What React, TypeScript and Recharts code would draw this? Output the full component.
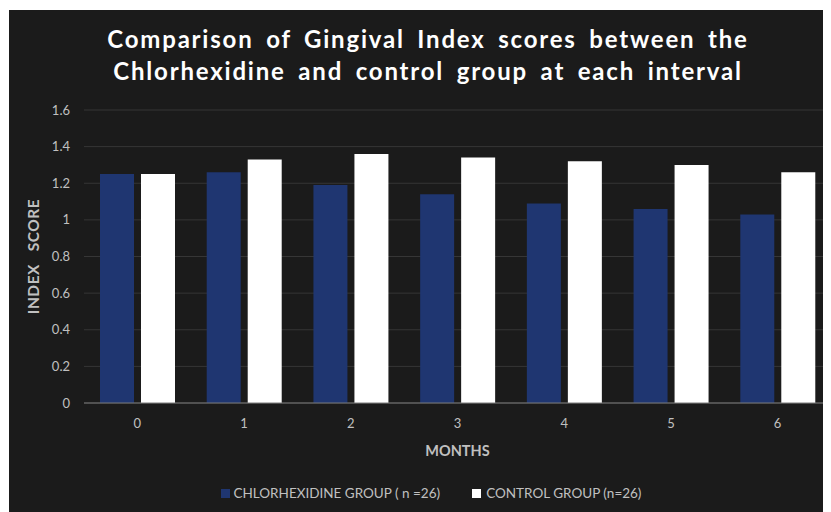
import { BarChart, Bar, XAxis, YAxis, CartesianGrid, Legend } from 'recharts'

// Data
const months = ['0', '1', '2', '3', '4', '5', '6']
const chlorhexidine = [1.25, 1.26, 1.19, 1.14, 1.09, 1.06, 1.03]
const control = [1.25, 1.33, 1.36, 1.34, 1.32, 1.3, 1.26]
const yTicks = [0, 0.2, 0.4, 0.6, 0.8, 1, 1.2, 1.4, 1.6]

const NAVY = '#1f3671'
const TEXT = '#c0c0c0'
const FONT = 'Lato, "Open Sans", sans-serif'

const data = months.map((m, i) => ({
  month: m,
  chlor: chlorhexidine[i],
  control: control[i],
}))

function LegendContent() {
  return (
    <div
      style={{
        display: 'flex',
        justifyContent: 'center',
        gap: 32,
        paddingTop: 18,
        paddingLeft: 22,
        fontFamily: FONT,
        fontSize: 13.5,
        color: TEXT,
      }}
    >
      <span style={{ display: 'flex', alignItems: 'center', gap: 4 }}>
        <span style={{ width: 9, height: 9, background: NAVY, display: 'inline-block' }} />
        CHLORHEXIDINE GROUP ( n =26)
      </span>
      <span style={{ display: 'flex', alignItems: 'center', gap: 5 }}>
        <span style={{ width: 9, height: 9, background: '#ffffff', display: 'inline-block' }} />
        CONTROL GROUP (n=26)
      </span>
    </div>
  )
}

export default function App() {
  return (
    <div
      style={{
        position: 'relative',
        width: 822,
        height: 502,
        marginLeft: 1,
        marginTop: 2,
        background: '#1b1b1b',
      }}
    >
      {/* Title */}
      <div
        style={{
          position: 'absolute',
          top: 13,
          left: 0,
          width: 838,
          textAlign: 'center',
          color: '#ffffff',
          fontFamily: FONT,
          fontWeight: 700,
          fontSize: 24,
          letterSpacing: 1.8,
          lineHeight: '32px',
          wordSpacing: 5,
        }}
      >
        Comparison of Gingival Index scores between the
        <br />
        Chlorhexidine and control group at each interval
      </div>
      <BarChart
        width={822}
        height={502}
        data={data}
        margin={{ top: 100, right: 0, bottom: 0, left: 0 }}
        barCategoryGap={16}
        barGap={7}
      >
        <CartesianGrid vertical={false} stroke="#363636" />
        <XAxis
          dataKey="month"
          axisLine={{ stroke: '#7a7a7a' }}
          tickLine={false}
          tick={{ fill: TEXT, fontSize: 13, fontFamily: FONT }}
          tickMargin={10}
          height={64}
          label={{
            value: 'MONTHS',
            position: 'insideBottom',
            offset: 11,
            fill: TEXT,
            fontSize: 14.5,
            fontWeight: 700,
            fontFamily: FONT,
          }}
        />
        <YAxis
          domain={[0, 1.6]}
          ticks={yTicks}
          axisLine={false}
          tickLine={false}
          width={75}
          tickMargin={8}
          tick={{ fill: TEXT, fontSize: 13, fontFamily: FONT }}
          label={{
            value: 'INDEX\u00a0\u00a0\u00a0SCORE',
            angle: -90,
            position: 'insideLeft',
            offset: 24,
            fill: TEXT,
            fontSize: 15.5,
            fontWeight: 700,
            fontFamily: FONT,
            style: { textAnchor: 'middle', letterSpacing: 0.5 },
          }}
        />
        <Legend verticalAlign="bottom" height={45} content={<LegendContent />} />
        <Bar dataKey="chlor" fill={NAVY} barSize={34} isAnimationActive={false} />
        <Bar dataKey="control" fill="#ffffff" barSize={34} isAnimationActive={false} />
      </BarChart>
    </div>
  )
}
